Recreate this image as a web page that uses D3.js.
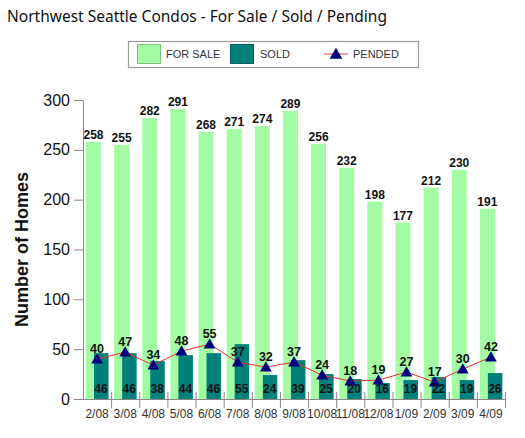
<!DOCTYPE html>
<html>
<head>
<meta charset="utf-8">
<script src="https://cdn.jsdelivr.net/npm/d3@7"></script>
<style>
  body { margin: 0; background: #fff; }
  svg { display: block; }
</style>
</head>
<body>
<div class="chart-div"></div>
<script>
const months = ["2/08","3/08","4/08","5/08","6/08","7/08","8/08","9/08","10/08","11/08","12/08","1/09","2/09","3/09","4/09"];
const forSale = [258,255,282,291,268,271,274,289,256,232,198,177,212,230,191];
const sold = [46,46,38,44,46,55,24,39,25,20,16,19,22,19,26];
const pended = [40,47,34,48,55,37,32,37,24,18,19,27,17,30,42];
const yTicks = [0,50,100,150,200,250,300];

const w = 525;
const h = 438;
const plotLeft = 83, plotRight = 505, plotTop = 100, plotBottom = 399;

const green = "#a3fca3";
const teal = "#007f7b";
const navy = "#000080";
const red = "#e8322f";

const svg = d3.select(".chart-div")
    .append("svg")
    .attr("width", w)
    .attr("height", h);

// title
svg.append("text")
    .attr("x", 7)
    .attr("y", 21.5)
    .attr("font-family", "Noto Sans, sans-serif")
    .attr("font-size", 15.5)
    .attr("fill", "#111")
    .text("Northwest Seattle Condos - For Sale / Sold / Pending");

// legend
const lg = svg.append("g");
lg.append("rect")
    .attr("x", 128.5).attr("y", 41.5)
    .attr("width", 290).attr("height", 26)
    .attr("fill", "#fff").attr("stroke", "#9a9a9a").attr("stroke-width", 1.2);
lg.append("rect")
    .attr("x", 137.5).attr("y", 44.5).attr("width", 23).attr("height", 19)
    .attr("fill", green).attr("stroke", "#7fc07f");
lg.append("rect")
    .attr("x", 230.5).attr("y", 44.5).attr("width", 23).attr("height", 19)
    .attr("fill", teal).attr("stroke", "#006060");
lg.append("line")
    .attr("x1", 324).attr("x2", 348).attr("y1", 54).attr("y2", 54)
    .attr("stroke", red).attr("stroke-width", 1);
lg.append("path")
    .attr("d", d3.symbol(d3.symbolTriangle, 70)())
    .attr("transform", "translate(336,55)")
    .attr("fill", navy);
const legendText = [["FOR SALE", 166], ["SOLD", 260], ["PENDED", 353]];
lg.selectAll("text.leg")
    .data(legendText).enter()
    .append("text")
    .attr("class", "leg")
    .attr("x", d => d[1])
    .attr("y", 58)
    .attr("font-family", "Liberation Sans, Arial, sans-serif")
    .attr("font-size", 11)
    .attr("fill", "#333")
    .text(d => d[0]);

// scales
const xScale = d3.scaleBand()
    .domain(months)
    .range([plotLeft, plotRight])
    .padding(0);
const bw = xScale.bandwidth();

const yScale = d3.scaleLinear()
    .domain([0, 300])
    .range([plotBottom, plotTop]);

// for sale bars
svg.append("g")
    .selectAll("rect")
    .data(forSale).enter()
    .append("rect")
    .attr("x", (d, i) => xScale(months[i]) + 3)
    .attr("y", d => yScale(d))
    .attr("width", 15)
    .attr("height", d => plotBottom - yScale(d))
    .attr("fill", green);

// sold bars
svg.append("g")
    .selectAll("rect")
    .data(sold).enter()
    .append("rect")
    .attr("x", (d, i) => xScale(months[i]) + 11)
    .attr("y", d => yScale(d))
    .attr("width", 14.5)
    .attr("height", d => plotBottom - yScale(d))
    .attr("fill", teal);

// y axis
const yAxis = d3.axisLeft(yScale)
    .tickValues(yTicks)
    .tickSize(9)
    .tickPadding(4)
    .tickSizeOuter(0);
const yg = svg.append("g")
    .attr("transform", `translate(${plotLeft},0)`)
    .call(yAxis);
yg.select(".domain").attr("stroke", "#888");
yg.selectAll(".tick line").attr("stroke", "#888");
yg.selectAll(".tick text")
    .attr("font-family", "Liberation Sans, Arial, sans-serif")
    .attr("font-size", 16)
    .attr("fill", "#111");

// x axis
svg.append("line")
    .attr("x1", plotLeft).attr("x2", plotRight)
    .attr("y1", plotBottom + 0.5).attr("y2", plotBottom + 0.5)
    .attr("stroke", "#888");
svg.append("g")
    .selectAll("line")
    .data(months).enter()
    .append("line")
    .attr("x1", d => xScale(d) + bw + 0.5)
    .attr("x2", d => xScale(d) + bw + 0.5)
    .attr("y1", plotBottom - 7)
    .attr("y2", plotBottom + 9)
    .attr("stroke", "#888");
svg.append("g")
    .selectAll("text")
    .data(months).enter()
    .append("text")
    .attr("x", d => xScale(d) + bw / 2)
    .attr("y", 418)
    .attr("text-anchor", "middle")
    .attr("font-family", "Liberation Sans, Arial, sans-serif")
    .attr("font-size", 12)
    .attr("fill", "#333")
    .text(d => d);

// y label
svg.append("text")
    .attr("transform", `translate(28,${(plotTop + plotBottom) / 2}) rotate(-90)`)
    .attr("text-anchor", "middle")
    .attr("font-family", "Liberation Sans, Arial, sans-serif")
    .attr("font-size", 18)
    .attr("font-weight", "bold")
    .attr("fill", "#111")
    .text("Number of Homes");

// pended line
const line = d3.line()
    .x((d, i) => xScale(months[i]) + bw / 2)
    .y(d => yScale(d));
svg.append("path")
    .datum(pended)
    .attr("d", line)
    .attr("fill", "none")
    .attr("stroke", red)
    .attr("stroke-width", 1);
svg.append("g")
    .selectAll("path")
    .data(pended).enter()
    .append("path")
    .attr("d", d3.symbol(d3.symbolTriangle, 60)())
    .attr("transform", (d, i) => `translate(${xScale(months[i]) + bw / 2},${yScale(d) + 1})`)
    .attr("fill", navy);

// labels
const labelFont = "Liberation Sans, Arial, sans-serif";
svg.append("g")
    .selectAll("text")
    .data(forSale).enter()
    .append("text")
    .attr("x", (d, i) => xScale(months[i]) + 10.5)
    .attr("y", d => yScale(d) - 3)
    .attr("text-anchor", "middle")
    .attr("font-family", labelFont)
    .attr("font-size", 12)
    .attr("font-weight", "bold")
    .attr("fill", "#111")
    .text(d => d);
svg.append("g")
    .selectAll("text")
    .data(sold).enter()
    .append("text")
    .attr("x", (d, i) => xScale(months[i]) + 18)
    .attr("y", 393)
    .attr("text-anchor", "middle")
    .attr("font-family", labelFont)
    .attr("font-size", 12)
    .attr("font-weight", "bold")
    .attr("fill", "#111")
    .text(d => d);
svg.append("g")
    .selectAll("text")
    .data(pended).enter()
    .append("text")
    .attr("x", (d, i) => xScale(months[i]) + bw / 2)
    .attr("y", d => yScale(d) - 6)
    .attr("text-anchor", "middle")
    .attr("font-family", labelFont)
    .attr("font-size", 12.5)
    .attr("font-weight", "bold")
    .attr("fill", "#111")
    .text(d => d);
</script>
</body>
</html>
